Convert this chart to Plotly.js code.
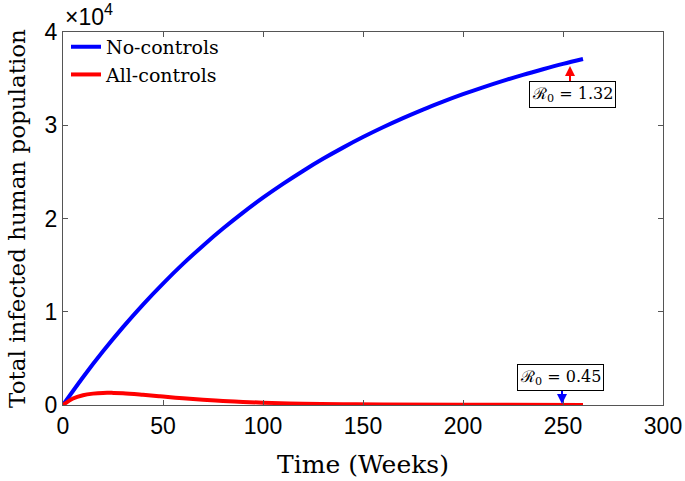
<!DOCTYPE html>
<html>
<head>
<meta charset="utf-8">
<script src="https://cdn.plot.ly/plotly-3.0.1.min.js"></script>
<style>html,body{margin:0;padding:0;background:#fff;}#chart{width:685px;height:481px;}</style>
</head>
<body>
<div id="chart"></div>
<script>
// Time in weeks
var weeksBlue = [0,10,20,30,40,50,60,70,80,90,100,110,120,130,140,150,160,170,180,190,200,210,220,230,240,250,260];
// No-controls (total infected humans)
var noControls = [0,2980,5760,8350,10770,13020,15130,17090,18920,20630,22230,23710,25100,26400,27600,28730,29780,30760,31680,32530,33330,34070,34760,35410,36010,36580,37100];
var weeksRed = [0,5,10,15,20,25,30,40,50,60,70,80,90,100,120,140,160,200,260];
// All-controls
var allControls = [0,700,1050,1220,1300,1300,1270,1100,900,720,560,430,330,250,140,80,50,20,10];
var xTicks = [0,50,100,150,200,250,300];
var yTickVals = [0,10000,20000,30000,40000];
var yTickText = ['0','1','2','3','4'];

var serif = '"DejaVu Serif", "Liberation Serif", serif';
var sans = '"Liberation Sans", Arial, sans-serif';

var traces = [
  {x: weeksBlue, y: noControls, type: 'scatter', mode: 'lines', name: 'No-controls',
   line: {color: '#0000ff', width: 4, shape: 'spline'}},
  {x: weeksRed, y: allControls, type: 'scatter', mode: 'lines', name: 'All-controls',
   line: {color: '#ff0000', width: 4, shape: 'spline'}}
];

var axisCommon = {
  showgrid: false, zeroline: false, showline: true, linecolor: '#555', linewidth: 1,
  mirror: 'ticks', ticks: 'inside', ticklen: 5, tickcolor: '#555',
  tickfont: {family: sans, size: 23, color: '#000'}
};

var layout = {
  width: 685, height: 481,
  margin: {l: 63, r: 22, t: 32, b: 76},
  paper_bgcolor: '#fff', plot_bgcolor: '#fff',
  showlegend: true,
  legend: {x: 0.005, y: 1.011, xanchor: 'left', yanchor: 'top', bgcolor: 'rgba(255,255,255,0)',
           font: {family: serif, size: 19, color: '#000'}, tracegroupgap: 0, itemwidth: 30},
  xaxis: Object.assign({}, axisCommon, {
    range: [0, 300], tickvals: xTicks,
    title: {text: 'Time (Weeks)', font: {family: serif, size: 25, color: '#000'}, standoff: 17}
  }),
  yaxis: Object.assign({}, axisCommon, {
    range: [0, 40000], tickvals: yTickVals, ticktext: yTickText,
    title: {text: 'Total infected human population', font: {family: serif, size: 23, color: '#000'}, standoff: 12}
  }),
  annotations: [
    {xref: 'paper', yref: 'paper', x: 0, y: 1, xanchor: 'left', yanchor: 'bottom', yshift: 0,
     text: '×10<sup>4</sup>', showarrow: false, font: {family: sans, size: 23, color: '#000'}},
    {x: 253.5, y: 36350, ax: 0, ay: 18, text: '', showarrow: true, arrowhead: 2, arrowsize: 1,
     arrowwidth: 2, arrowcolor: '#ff0000'},
    {x: 254.5, y: 33350, text: 'ℛ<sub>0</sub> = 1.32', showarrow: false,
     bordercolor: '#000', borderwidth: 1, borderpad: 2, bgcolor: '#fff',
     font: {family: serif, size: 16, color: '#000'}},
    {x: 249.5, y: 100, ax: 0, ay: -16, text: '', showarrow: true, arrowhead: 2, arrowsize: 1,
     arrowwidth: 2, arrowcolor: '#0000ff'},
    {x: 248.5, y: 3000, text: 'ℛ<sub>0</sub> = 0.45', showarrow: false,
     bordercolor: '#000', borderwidth: 1, borderpad: 2, bgcolor: '#fff',
     font: {family: serif, size: 16, color: '#000'}}
  ]
};

Plotly.newPlot('chart', traces, layout, {displayModeBar: false, staticPlot: true});
</script>
</body>
</html>
